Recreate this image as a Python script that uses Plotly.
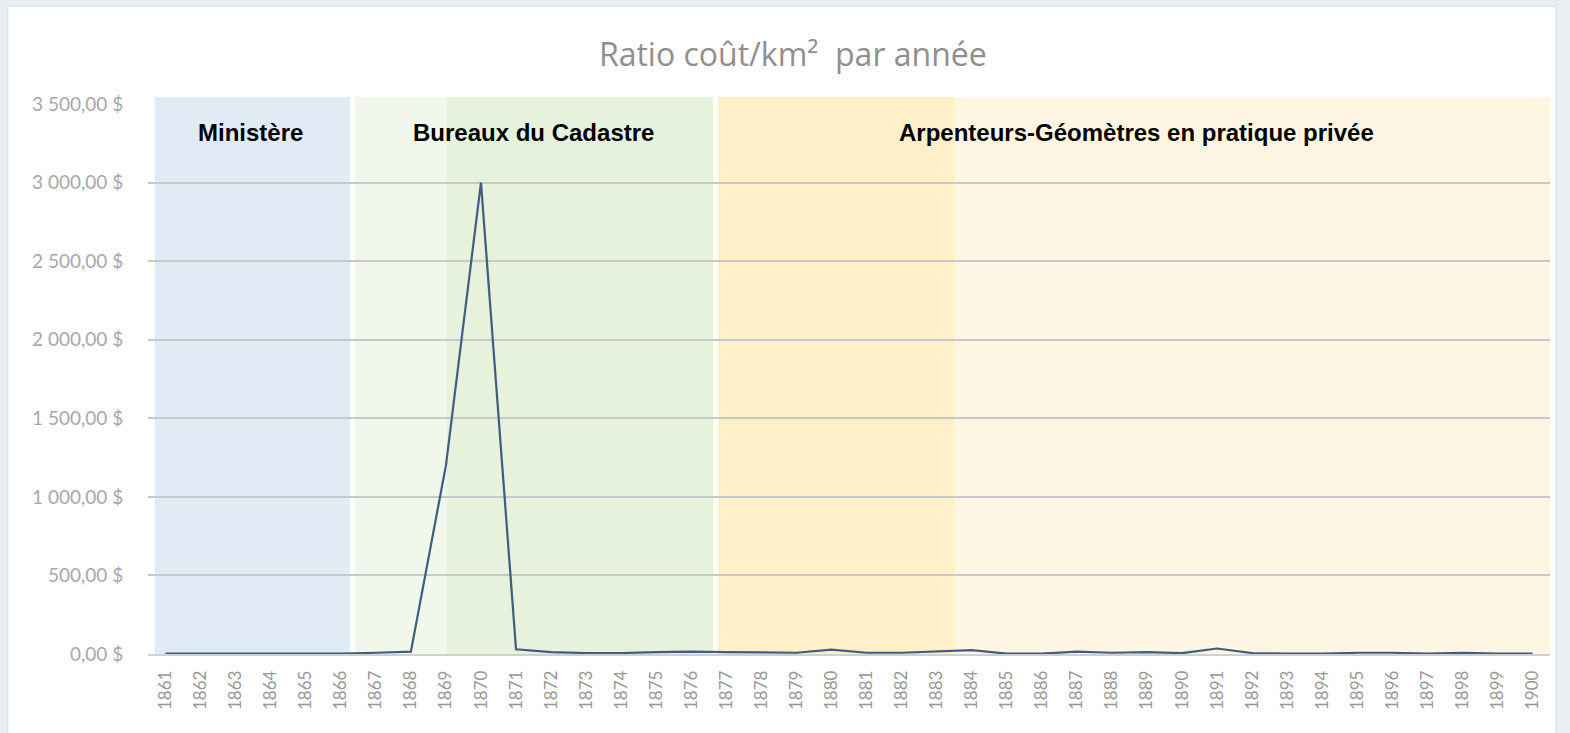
import plotly.graph_objects as go

# Annual cost per km² (CAD), 1861-1900
years = list(range(1861, 1901))
ratio = [
    2, 2, 2, 2, 2, 2,            # 1861-1866
    8, 15, 1200, 3000, 30,       # 1867-1871
    12, 6, 6, 12, 15,            # 1872-1876
    12, 8, 8, 28, 8, 8, 15, 25,  # 1877-1884
    2, 2, 15, 8, 12, 5, 35, 6,   # 1885-1892
    2, 2, 8, 8, 2, 8, 2, 2,      # 1893-1900
]

y_ticks = [0, 500, 1000, 1500, 2000, 2500, 3000, 3500]
y_tick_labels = ["0,00 $", "500,00 $", "1 000,00 $", "1 500,00 $",
                 "2 000,00 $", "2 500,00 $", "3 000,00 $", "3 500,00 $"]

# Periods shaded behind the series (start year, end year, colour)
periods = [
    (1860.70, 1866.26, "#E1EBF6"),
    (1866.41, 1869.03, "#F1F7EB"),
    (1869.03, 1876.62, "#E6F2DB"),
    (1876.76, 1883.53, "#FFF0CA"),
    (1883.53, 1900.50, "#FEF6E2"),
]
period_labels = [
    (1863.41, "Ministère"),
    (1871.49, "Bureaux du Cadastre"),
    (1888.69, "Arpenteurs-Géomètres en pratique privée"),
]

fig = go.Figure()

fig.add_trace(go.Scatter(
    x=years, y=ratio, mode="lines",
    line=dict(color="#3F5C82", width=2.2),
    hoverinfo="x+y", showlegend=False,
))

shapes = [
    # white chart panel on the light frame
    dict(type="rect", xref="paper", yref="paper",
         x0=-0.0999, x1=1.0043, y0=-0.16, y1=1.178,
         fillcolor="white", line=dict(color="#D8DDE3", width=1), layer="below"),
]
for x0, x1, col in periods:
    shapes.append(dict(type="rect", xref="x", yref="paper",
                       x0=x0, x1=x1, y0=0, y1=1.0127,
                       fillcolor=col, line=dict(width=0), layer="below"))

annotations = []
for xc, txt in period_labels:
    annotations.append(dict(
        x=xc, y=0.949, xref="x", yref="paper", text=txt, showarrow=False,
        xanchor="center", yanchor="middle",
        font=dict(family="Liberation Sans, Arial", size=24, color="#000000", weight="bold"),
    ))

fig.update_layout(
    width=1570, height=733,
    margin=dict(l=148, r=20, t=104, b=79),
    paper_bgcolor="#E9EEF3",
    plot_bgcolor="rgba(255,255,255,0)",
    shapes=shapes,
    annotations=annotations,
    title=dict(
        text="Ratio coût/km²  par année",
        x=0.505, xref="container", xanchor="center",
        y=1 - 55 / 733, yref="container", yanchor="middle",
        font=dict(family="Open Sans", size=32, color="#8F8F8F"),
    ),
    xaxis=dict(
        range=[1860.5, 1900.5],
        tickmode="array", tickvals=years, ticktext=[str(y) for y in years],
        tickangle=-90,
        tickfont=dict(family="Lato", size=17, color="#979797"),
        showgrid=False, zeroline=False,
        showline=True, linecolor="#D0D0D0", linewidth=1.5,
        ticks="outside", ticklen=8, tickcolor="rgba(0,0,0,0)",
        fixedrange=True,
    ),
    yaxis=dict(
        range=[0, 3500],
        tickmode="array", tickvals=y_ticks, ticktext=y_tick_labels,
        tickfont=dict(family="Lato", size=19, color="#A8A8A8"),
        showgrid=True, gridcolor="#C8C8C8", gridwidth=1.5,
        zeroline=False, showline=False,
        ticks="outside", ticklen=20, tickcolor="rgba(0,0,0,0)",
        fixedrange=True,
    ),
)

fig.write_html("out.html")
